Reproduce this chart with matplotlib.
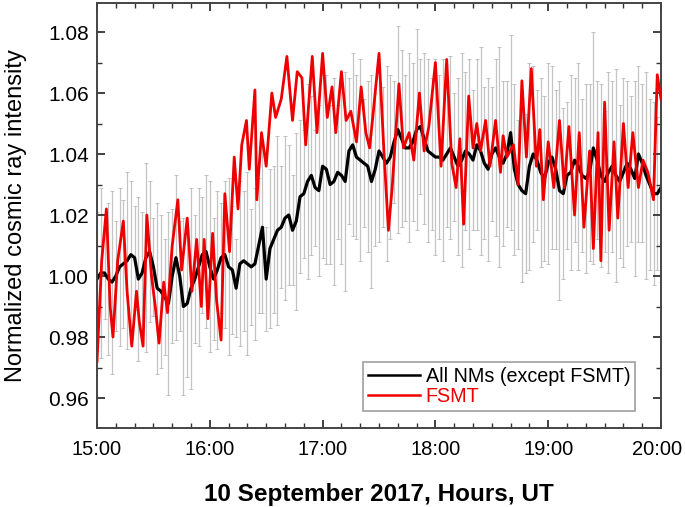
import numpy as np
import matplotlib.pyplot as plt
import matplotlib.transforms as mtransforms
from matplotlib.ticker import MultipleLocator

plt.rcParams['font.family'] = ['Liberation Sans', 'DejaVu Sans']

# minutes after 15:00 UT
t_nm = np.arange(0, 301, 2)
all_nm = [
    0.999, 1.001, 1.001, 0.999, 0.998, 1.000, 1.003, 1.004, 1.005, 1.007,
    1.006, 0.999, 1.001, 1.006, 1.008, 1.003, 0.996, 0.995, 0.993, 0.991,
    1.000, 1.006, 1.000, 0.990, 0.991, 0.996, 0.999, 1.003, 1.007, 1.008,
    1.003, 0.999, 1.002, 1.006, 1.007, 1.003, 1.002, 0.996, 1.004, 1.005,
    1.004, 1.003, 1.004, 1.010, 1.016, 0.999, 1.009, 1.012, 1.015, 1.016,
    1.019, 1.020, 1.015, 1.018, 1.026, 1.027, 1.031, 1.033, 1.029, 1.028,
    1.036, 1.035, 1.030, 1.031, 1.034, 1.033, 1.031, 1.041, 1.043, 1.039,
    1.038, 1.037, 1.036, 1.031, 1.035, 1.041, 1.039, 1.037, 1.039, 1.044,
    1.048, 1.045, 1.042, 1.042, 1.044, 1.048, 1.049, 1.045, 1.041, 1.040,
    1.039, 1.039, 1.038, 1.040, 1.042, 1.039, 1.036, 1.038, 1.041, 1.040,
    1.038, 1.043, 1.041, 1.037, 1.035, 1.040, 1.042, 1.039, 1.037, 1.040,
    1.047, 1.035, 1.030, 1.028, 1.027, 1.036, 1.040, 1.038, 1.034, 1.032,
    1.037, 1.039, 1.035, 1.028, 1.027, 1.033, 1.034, 1.038, 1.036, 1.033,
    1.032, 1.034, 1.042, 1.038, 1.033, 1.031, 1.034, 1.036, 1.033, 1.031,
    1.034, 1.037, 1.035, 1.032, 1.040, 1.037, 1.033, 1.030, 1.027, 1.027,
    1.029,
]
nm_err = [
    0.022, 0.028, 0.015, 0.025, 0.030, 0.018, 0.026, 0.021, 0.029, 0.024,
    0.017, 0.027, 0.020, 0.031, 0.023, 0.016, 0.028, 0.025, 0.019, 0.030,
    0.022, 0.027, 0.018, 0.029, 0.024, 0.033, 0.021, 0.026, 0.019, 0.025,
    0.028,
    0.020, 0.026, 0.018, 0.024, 0.029, 0.021, 0.016, 0.027, 0.023, 0.030,
    0.019, 0.025, 0.022, 0.028, 0.017, 0.026, 0.024, 0.031, 0.020, 0.027,
    0.023, 0.018, 0.029, 0.025, 0.021, 0.032, 0.026, 0.019, 0.028, 0.030,
    0.031, 0.026, 0.034, 0.022, 0.029, 0.036, 0.024, 0.030, 0.027, 0.033,
    0.021, 0.028, 0.035, 0.025, 0.030, 0.023, 0.032, 0.027, 0.020, 0.034,
    0.029, 0.024, 0.031, 0.026, 0.033, 0.022, 0.028, 0.030, 0.025, 0.032,
    0.027, 0.033, 0.024, 0.030, 0.021, 0.029, 0.035, 0.026, 0.031, 0.023,
    0.028, 0.034, 0.025, 0.030, 0.022, 0.029, 0.036, 0.027, 0.024, 0.032,
    0.028, 0.021, 0.030, 0.026, 0.034, 0.029, 0.023, 0.031, 0.027, 0.033,
    0.030, 0.026, 0.036, 0.028, 0.024, 0.032, 0.027, 0.034, 0.025, 0.031,
    0.029, 0.038, 0.026, 0.030, 0.023, 0.033, 0.028, 0.035, 0.025, 0.031,
    0.027, 0.024, 0.032, 0.029, 0.026, 0.034, 0.028, 0.030, 0.025, 0.031,
]

t_fsmt = [
    0, 2.5, 5, 7, 8.5, 11, 14, 16, 18.5, 21, 22.5, 24.5, 26.5, 29, 31, 33,
    35.5, 37.5, 40, 43, 45, 48, 50.5, 53, 55.5, 57, 59, 61.5, 63.6, 66, 68,
    70.5, 73, 75, 77, 79.5, 81, 84, 85, 87.5, 90, 93, 95, 98, 101, 104,
    106.5, 109, 111, 114.5, 117, 120, 122.5, 125, 127, 130, 132.5, 135, 138,
    140.5, 143, 145, 147, 150, 152.6, 155, 157, 160.6, 163, 166, 168.5,
    171.5, 174, 176.5, 180, 183, 186, 188.7, 191, 193, 195, 197.7, 200,
    202, 204, 206.7, 209, 212, 214.6, 216, 218, 221.5, 224, 226, 228.4, 231,
    233.7, 235.5, 237.4, 240, 243, 246, 248.5, 251, 254, 256.5, 259, 262,
    264, 266.5, 268, 270, 272.4, 275, 277, 280, 282.5, 285, 288, 290.4, 293,
    296, 298, 300,
]
fsmt = [
    0.972, 1.005, 1.022, 0.990, 0.980, 1.005, 1.018, 0.995, 0.977, 0.995,
    0.985, 0.977, 1.020, 1.000, 0.990, 0.978, 0.998, 0.988, 1.010, 1.025,
    1.002, 1.019, 0.995, 1.012, 0.990, 1.012, 0.986, 1.014, 0.992, 0.979,
    1.027, 1.008, 1.039, 1.022, 1.043, 1.051, 1.035, 1.061, 1.025, 1.047,
    1.036, 1.060, 1.052, 1.058, 1.072, 1.051, 1.067, 1.065, 1.043, 1.072,
    1.047, 1.073, 1.052, 1.062, 1.047, 1.067, 1.051, 1.054, 1.044, 1.062,
    1.047, 1.042, 1.054, 1.073, 1.041, 1.015, 1.029, 1.063, 1.042, 1.047,
    1.038, 1.060, 1.041, 1.049, 1.070, 1.036, 1.071, 1.037, 1.029, 1.045,
    1.017, 1.059, 1.042, 1.050, 1.041, 1.051, 1.036, 1.051, 1.034, 1.046,
    1.039, 1.043, 1.030, 1.064, 1.039, 1.068, 1.036, 1.048, 1.025, 1.044,
    1.029, 1.051, 1.029, 1.049, 1.020, 1.047, 1.016, 1.041, 1.009, 1.047,
    1.005, 1.057, 1.015, 1.044, 1.019, 1.050, 1.029, 1.047, 1.029, 1.038,
    1.034, 1.025, 1.066, 1.058,
]

hour_ticks = [0, 60, 120, 180, 240, 300]
hour_labels = ['15:00', '16:00', '17:00', '18:00', '19:00', '20:00']

fig = plt.figure(figsize=(6.85, 5.07), dpi=100)
ax = fig.add_axes([0.1416, 0.156, 0.8234, 0.838])

ax.errorbar(t_nm, all_nm, yerr=nm_err, fmt='none', ecolor='#acacac',
            elinewidth=0.9, capsize=1.5, capthick=0.7, alpha=0.7, zorder=1)
ax.plot(t_nm, all_nm, color='black', lw=2.3, zorder=2,
        label='All NMs (except FSMT)')
ax.plot(t_fsmt, fsmt, color='#ee0000', lw=2.0, zorder=3, label='FSMT')

ax.set_xlim(0, 300)
ax.set_ylim(0.9502, 1.0895)
ax.set_xticks(hour_ticks)
ax.set_xticklabels(hour_labels)
ax.xaxis.set_minor_locator(MultipleLocator(10))
ax.yaxis.set_major_locator(MultipleLocator(0.02))
ax.yaxis.set_minor_locator(MultipleLocator(0.01))
ax.yaxis.set_major_formatter(plt.FormatStrFormatter('%.2f'))
ax.tick_params(which='both', direction='in', top=True, right=True,
               colors='#333333', labelcolor='black')
ax.tick_params(axis='y', labelsize=15, pad=6)
ax.tick_params(axis='x', labelsize=14.5, pad=9)
ax.tick_params(which='major', length=6, width=1.3)
ax.tick_params(which='minor', length=3.5, width=1.0)
for s in ax.spines.values():
    s.set_linewidth(1.4)
    s.set_color('#444444')

# keep the last hour label inside the figure
last = ax.get_xticklabels()[-1]
last.set_transform(last.get_transform() +
                   mtransforms.ScaledTranslation(-4 / 100, 0, fig.dpi_scale_trans))

ax.set_ylabel('Normalized cosmic ray intensity', fontsize=17, labelpad=15)
ax.set_xlabel('10 September 2017, Hours, UT', fontsize=17.5,
              fontweight='bold', labelpad=17)

leg = ax.legend(loc='lower right', bbox_to_anchor=(0.954, 0.04),
                borderaxespad=0, fontsize=14.2, frameon=True, fancybox=False,
                handlelength=2.6, handletextpad=0.3, labelspacing=0.05,
                borderpad=0.25)
leg.get_frame().set_edgecolor('#888888')
leg.get_frame().set_linewidth(1.2)
leg.get_texts()[1].set_color('#ee0000')
for h in leg.get_lines():
    h.set_linewidth(1.8)

fig.savefig('out.png', dpi=100)
